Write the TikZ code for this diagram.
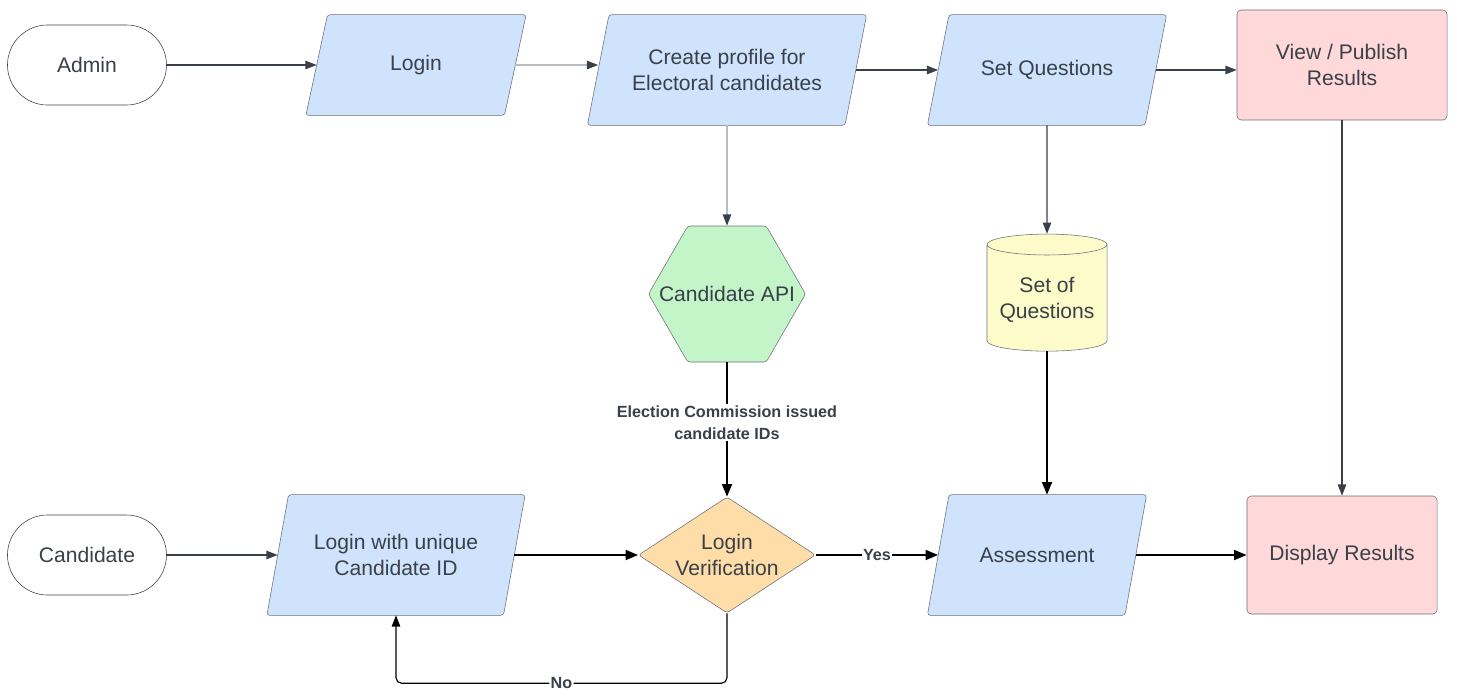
\documentclass[tikz,border=0pt]{standalone}
\usepackage{fontspec}
\setmainfont{Liberation Sans}
\usepackage{tikz}
\usetikzlibrary{shapes.geometric, arrows.meta, positioning, backgrounds}
\definecolor{inkgray}{HTML}{3A4049}
\definecolor{lightline}{HTML}{B9BDC3}
\definecolor{bordergray}{HTML}{6B717A}
\definecolor{inputblue}{HTML}{CFE3FD}
\definecolor{resultpink}{HTML}{FFD8D9}
\definecolor{apigreen}{HTML}{C4F5C8}
\definecolor{storeyellow}{HTML}{FDFBC9}
\definecolor{checkorange}{HTML}{FEDDA8}

\begin{document}
\begin{tikzpicture}[x=0.025cm, y=-0.025cm,
  every node/.style={text=inkgray, font=\fontsize{15}{18.5}\selectfont, align=center},
  terminal/.style={draw=inkgray, fill=white, rounded corners=1cm, minimum width=3.975cm, minimum height=2cm},
  io/.style={rectangle, inner sep=0pt},
  ioface/.style={draw=bordergray, fill=inputblue, rounded corners=2pt},
  result/.style={rectangle, draw=bordergray, fill=resultpink, rounded corners=3pt},
  thin/.style={draw=inkgray, line width=0.8pt, -{Triangle[length=8pt, width=6pt]}},
  faded/.style={draw=lightline, line width=0.8pt, -{Triangle[length=8pt, width=6pt, color=inkgray]}},
  thick/.style={draw=black, line width=1.6pt, -{Triangle[length=9pt, width=7pt]}},
  tag/.style={fill=white, inner sep=1pt, font=\fontsize{11.5}{15.6}\selectfont\bfseries}]
  \useasboundingbox (0,0) rectangle (1457,698);

  % Admin side
  \node[terminal] (admin) at (87,65) {Admin};
  \node[io, minimum width=4.95cm, minimum height=2.5cm] (login) at (416,65) {Login};
  \node[io, minimum width=6.425cm, minimum height=2.75cm] (profile) at (727,70) {Create profile for\\Electoral candidates};
  \node[io, minimum width=5.425cm, minimum height=2.75cm] (setq) at (1047,70) {Set Questions};
  \node[result, minimum width=5.25cm, minimum height=2.75cm] (publish) at (1342,65) {View / Publish\\Results};

  % Middle row
  \node[regular polygon, regular polygon sides=6, minimum size=3.925cm, inner sep=0pt,
    draw=bordergray, fill=apigreen, rounded corners=2pt, label=center:Candidate API] (api) at (727,294) {};
  \node[cylinder, shape border rotate=90, aspect=0.2, minimum width=3cm, minimum height=2.925cm,
    draw=bordergray, fill=storeyellow] (qbank) at (1047,300) {Set of\\Questions};

  % Candidate side
  \node[terminal] (candidate) at (87,555) {Candidate};
  \node[io, minimum width=5.9cm, minimum height=3cm] (loginid) at (396,555) {Login with unique\\Candidate ID};
  \node[diamond, aspect=1.5, inner sep=0pt, minimum width=4.425cm, minimum height=2.9cm,
    draw=bordergray, fill=checkorange, rounded corners=2pt] (verify) at (727,555) {Login\\Verification};
  \node[io, minimum width=4.925cm, minimum height=3cm] (assess) at (1037,555) {Assessment};
  \node[result, minimum width=4.75cm, minimum height=2.95cm] (display) at (1342,555) {Display Results};

  % Slanted input boxes
  \begin{scope}[on background layer]
    \foreach \n in {login,profile,setq,loginid,assess}
      \draw[ioface] ([xshift=-0.27cm]\n.south west) -- ([xshift=0.27cm]\n.north west)
        -- ([xshift=0.27cm]\n.north east) -- ([xshift=-0.27cm]\n.south east) -- cycle;
  \end{scope}

  % Admin flow
  \draw[thin] (admin) -- (login);
  \draw[faded] (login.east) -- (login.east -| profile.west);
  \draw[thin] (profile) -- (setq);
  \draw[thin] (setq.east) -- (setq.east -| publish.west);
  \draw[faded] (profile) -- (api);
  \draw[thin] (setq) -- (qbank);
  \draw[thin] (publish) -- (display);

  % Candidate flow
  \draw[thin] (candidate) -- (loginid);
  \draw[thick] (api) -- node[tag, pos=0.45] {Election Commission issued\\candidate IDs} (verify);
  \draw[thick] (qbank.south) -- (qbank.south |- assess.north);
  \draw[thick] (loginid) -- (verify);
  \draw[thick] (verify) -- node[tag] {Yes} (assess);
  \draw[thick] (assess) -- (display);
  \draw[draw=black, line width=0.8pt, rounded corners=4pt, -{Triangle[length=8pt, width=6pt]}]
    (verify.south) -- ++(0,70) -| node[tag, pos=0.25] {No} (loginid.south);
\end{tikzpicture}
\end{document}
